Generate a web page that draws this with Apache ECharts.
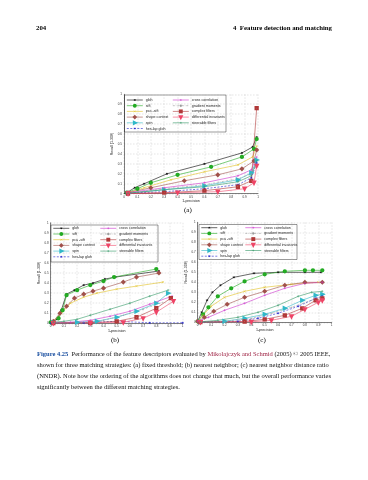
<!DOCTYPE html>
<html><head><meta charset="utf-8">
<script src="https://cdn.jsdelivr.net/npm/echarts@6/dist/echarts.min.js"></script>
<style>html,body{margin:0;padding:0;background:#fff}#c{width:368px;height:480px}</style>
</head><body><div id="c"></div>
<script>
// ---- data ----
const seriesNames = ['gloh','sift','pca -sift','shape context','spin','hes-lap gloh',
  'cross correlation','gradient moments','complex filters','differential invariants','steerable filters'];
const axisTicks = [0,0.1,0.2,0.3,0.4,0.5,0.6,0.7,0.8,0.9,1];
// (a) fixed threshold: [1-precision, recall]
const dataA = [
  [[0.02,0.01],[0.08,0.06],[0.15,0.1],[0.32,0.2],[0.6,0.3],[0.88,0.41],[0.96,0.47],[0.99,0.57]],
  [[0.02,0.01],[0.1,0.05],[0.2,0.11],[0.4,0.19],[0.65,0.27],[0.88,0.37],[0.97,0.45],[0.99,0.55]],
  [[0.03,0.01],[0.15,0.06],[0.35,0.14],[0.6,0.22],[0.85,0.29],[0.96,0.37],[0.99,0.48]],
  [[0.03,0.01],[0.2,0.06],[0.45,0.13],[0.7,0.19],[0.88,0.25],[0.97,0.33],[0.99,0.44]],
  [[0.03,0.005],[0.3,0.04],[0.6,0.08],[0.85,0.14],[0.95,0.21],[0.99,0.34]],
  [[0.02,0.005],[0.3,0.02],[0.6,0.05],[0.85,0.09],[0.95,0.16],[0.99,0.31]],
  [[0.03,0.01],[0.3,0.06],[0.6,0.11],[0.85,0.18],[0.95,0.24],[0.99,0.37]],
  [[0.03,0.005],[0.3,0.05],[0.6,0.09],[0.85,0.15],[0.95,0.2],[0.99,0.29]],
  [[0.03,0.002],[0.3,0.01],[0.6,0.03],[0.85,0.07],[0.95,0.13],[0.99,0.86]],
  [[0.03,0.002],[0.4,0.01],[0.7,0.02],[0.9,0.05],[0.97,0.11],[0.99,0.28]],
  [[0.03,0.005],[0.3,0.04],[0.6,0.07],[0.85,0.12],[0.95,0.18],[0.99,0.33]]
];
// (b) nearest neighbor
const dataB = [
  [[0,0.01],[0.05,0.04],[0.08,0.13],[0.12,0.29],[0.18,0.33],[0.25,0.38],[0.32,0.4],[0.41,0.44],[0.49,0.46],[0.82,0.52]],
  [[0,0.01],[0.06,0.05],[0.09,0.13],[0.12,0.28],[0.2,0.33],[0.3,0.38],[0.4,0.42],[0.48,0.46],[0.8,0.54]],
  [[0.02,0.02],[0.08,0.1],[0.15,0.2],[0.25,0.26],[0.35,0.3],[0.5,0.34],[0.65,0.37],[0.85,0.41]],
  [[0.02,0.02],[0.07,0.1],[0.12,0.17],[0.18,0.25],[0.25,0.29],[0.32,0.32],[0.4,0.35],[0.55,0.41],[0.65,0.46],[0.82,0.5]],
  [[0.02,0.005],[0.2,0.01],[0.35,0.02],[0.5,0.06],[0.65,0.12],[0.8,0.2],[0.89,0.3]],
  [[0,0.0],[0.25,0.005],[0.5,0.02],[0.75,0.005],[1.0,0.005]],
  [[0.02,0.01],[0.15,0.01],[0.3,0.03],[0.45,0.07],[0.6,0.12],[0.75,0.19],[0.92,0.27]],
  [[0.02,0.005],[0.25,0.01],[0.4,0.03],[0.55,0.08],[0.7,0.14],[0.85,0.21]],
  [[0.02,0.002],[0.3,0.005],[0.5,0.02],[0.65,0.06],[0.8,0.15],[0.91,0.25]],
  [[0.02,0.002],[0.3,0.003],[0.55,0.01],[0.7,0.05],[0.8,0.11],[0.93,0.22]],
  [[0.02,0.01],[0.1,0.02],[0.2,0.04],[0.3,0.08],[0.45,0.14],[0.6,0.2],[0.75,0.27],[0.89,0.33]]
];
// (c) nearest neighbor distance ratio
const dataC = [
  [[0,0.01],[0.03,0.1],[0.07,0.22],[0.11,0.3],[0.17,0.37],[0.27,0.45],[0.42,0.49],[0.6,0.5],[0.8,0.5],[0.92,0.5]],
  [[0,0.01],[0.04,0.08],[0.08,0.15],[0.15,0.26],[0.25,0.34],[0.35,0.41],[0.5,0.48],[0.65,0.51],[0.8,0.52],[0.86,0.52],[0.93,0.52]],
  [[0,0.01],[0.04,0.07],[0.1,0.16],[0.2,0.25],[0.35,0.31],[0.5,0.35],[0.7,0.38],[0.9,0.4]],
  [[0,0.01],[0.05,0.05],[0.12,0.11],[0.22,0.18],[0.35,0.25],[0.5,0.31],[0.65,0.37],[0.8,0.4],[0.93,0.4]],
  [[0.02,0.003],[0.2,0.01],[0.35,0.04],[0.5,0.08],[0.65,0.14],[0.78,0.22],[0.88,0.27],[0.93,0.28]],
  [[0.02,0.002],[0.3,0.01],[0.45,0.04],[0.6,0.09],[0.75,0.16],[0.88,0.24],[0.93,0.26]],
  [[0,0.01],[0.08,0.05],[0.2,0.12],[0.35,0.19],[0.5,0.27],[0.65,0.34],[0.8,0.39],[0.93,0.4]],
  [[0.02,0.003],[0.2,0.01],[0.4,0.04],[0.55,0.09],[0.7,0.15],[0.85,0.22],[0.93,0.26]],
  [[0.02,0.002],[0.35,0.008],[0.5,0.03],[0.65,0.07],[0.78,0.14],[0.88,0.22],[0.93,0.24]],
  [[0.02,0.002],[0.4,0.005],[0.55,0.02],[0.7,0.06],[0.8,0.13],[0.9,0.2],[0.93,0.22]],
  [[0.02,0.005],[0.15,0.02],[0.3,0.05],[0.45,0.1],[0.6,0.17],[0.75,0.26],[0.85,0.3],[0.93,0.31]]
];

// ---- styles ----
const star = 'path://M5,0L5,10M0,5L10,5M1.5,1.5L8.5,8.5M8.5,1.5L1.5,8.5';
const cross = 'path://M1.5,1.5L8.5,8.5M8.5,1.5L1.5,8.5';
const plus = 'path://M5,0L5,10M0,5L10,5';
const styles = [
  {c:'#000000', s:star, t:'solid'},
  {c:'#22aa22', s:'emptyCircle', t:'solid'},
  {c:'#e0c020', s:cross, t:'solid'},
  {c:'#a0504a', s:'emptyDiamond', t:'solid'},
  {c:'#30b8c8', s:'emptyTriangle', r:-90, t:'solid'},
  {c:'#2020cc', s:star, t:[2,1.5]},
  {c:'#cc33cc', s:plus, t:'solid'},
  {c:'#999999', s:'circle', z:0.6, t:[2,1,0.5,1]},
  {c:'#b03838', s:'emptyRect', t:'solid'},
  {c:'#ee4466', s:'emptyTriangle', r:180, t:'solid'},
  {c:'#339966', s:plus, t:'solid'}
];

const grids = [
  {left:124, top:94.3, width:134, height:99.4},
  {left:50.7, top:222.8, width:132, height:100.5},
  {left:197.7, top:222.3, width:134, height:100}
];
const yNames = ['Recall (1-308)','Recall (1-308)','Recall (1-308)'];
const F = 'Liberation Sans';

function xAx(i){return {gridIndex:i,type:'value',min:0,max:1,interval:0.1,
  name:'1-precision',nameLocation:'middle',nameGap:5,nameTextStyle:{fontSize:3.6,fontFamily:F,color:'#222'},
  axisLine:{lineStyle:{color:'#000',width:0.5}},axisTick:{show:false},
  axisLabel:{fontSize:3,fontFamily:F,color:'#333',margin:1.5,formatter:v=>String(+v.toFixed(1))},
  splitLine:{lineStyle:{color:'#bbb',width:0.4,type:[1.5,1.5]}}};}
function yAx(i){return {gridIndex:i,type:'value',min:0,max:1,interval:0.1,
  name:yNames[i],nameLocation:'middle',nameGap:8,nameTextStyle:{fontSize:3.6,fontFamily:F,color:'#222'},
  axisLine:{show:true,lineStyle:{color:'#000',width:0.5}},axisTick:{show:false},
  axisLabel:{fontSize:3,fontFamily:F,color:'#333',margin:2,formatter:v=>String(+v.toFixed(1))},
  splitLine:{lineStyle:{color:'#bbb',width:0.4,type:[1.5,1.5]}}};}

const series = [];
[dataA,dataB,dataC].forEach((set,g)=>{
  set.forEach((d,i)=>{
    const st = styles[i];
    series.push({type:'line',name:seriesNames[i],xAxisIndex:g,yAxisIndex:g,data:d,
      symbol:st.s,symbolSize:st.z||2.3,symbolRotate:st.r||0,showSymbol:true,
      lineStyle:{color:st.c,width:0.6,type:st.t},
      itemStyle:{color:st.c,borderColor:st.c,borderWidth:0.45},
      emphasis:{disabled:true},animation:false});
  });
});

function leg(left,top,names){return {orient:'vertical',left:left,top:top,data:names,
  itemWidth:16,itemHeight:2.4,itemGap:1.7,selectedMode:false,padding:0,
  itemStyle:{borderWidth:0.45},lineStyle:{width:0.6},
  textStyle:{fontSize:3.6,fontFamily:F,color:'#222',lineHeight:4,padding:[0,0,0,-2]}};}
const L = seriesNames.slice(0,6), R = seriesNames.slice(6);
const legends = [
  leg(126.5,98,L), leg(172.5,98,R),
  leg(53,226.3,L), leg(100,226.3,R),
  leg(201,225.7,L), leg(245,225.7,R)
];

const S = 'Liberation Serif';
const capLines = [
  '{b|Figure 4.25}  Performance of the feature descriptors evaluated by {r|Mikolajczyk and Schmid} (2005) © 2005 IEEE,',
  'shown for three matching strategies: (a) fixed threshold; (b) nearest neighbor; (c) nearest neighbor distance ratio',
  '(NNDR). Note how the ordering of the algorithms does not change that much, but the overall performance varies',
  'significantly between the different matching strategies.'
];
const graphic = [
  {type:'rect',shape:{x:124.5,y:95,width:101.5,height:37},style:{fill:'#fff',stroke:'#000',lineWidth:0.4},z:-1},
  {type:'rect',shape:{x:51,y:225,width:107,height:37},style:{fill:'#fff',stroke:'#000',lineWidth:0.4},z:-1},
  {type:'rect',shape:{x:199,y:224.5,width:98,height:35},style:{fill:'#fff',stroke:'#000',lineWidth:0.4},z:-1},
  {type:'text',left:36,top:24.5,style:{text:'204',font:'bold 6.8px "Liberation Serif"',fill:'#000'}},
  {type:'text',right:36,top:24.5,style:{text:'4  Feature detection and matching',font:'bold 6.8px "Liberation Serif"',fill:'#000'}},
  {type:'text',left:184,top:207,style:{text:'(a)',font:'7px "Liberation Serif"',fill:'#000'}},
  {type:'text',left:111,top:337,style:{text:'(b)',font:'7px "Liberation Serif"',fill:'#000'}},
  {type:'text',left:258,top:337,style:{text:'(c)',font:'7px "Liberation Serif"',fill:'#000'}}
];
capLines.forEach((t,k)=>{
  graphic.push({type:'text',left:37,top:350.5+k*11,style:{text:t,fontFamily:S,fontSize:6.5,fill:'#111',
    rich:{b:{fontFamily:S,fontSize:6.5,fontWeight:'bold',fill:'#1a4fa0',color:'#1a4fa0'},
          r:{fontFamily:S,fontSize:6.5,fill:'#a02848',color:'#a02848'}}}});
});

const chart = echarts.init(document.getElementById('c'),null,{renderer:'canvas'});
chart.setOption({
  backgroundColor:'#fff',animation:false,
  grid:grids,
  xAxis:[0,1,2].map(xAx),
  yAxis:[0,1,2].map(yAx),
  legend:legends,
  series:series,
  graphic:graphic
});
</script></body></html>
